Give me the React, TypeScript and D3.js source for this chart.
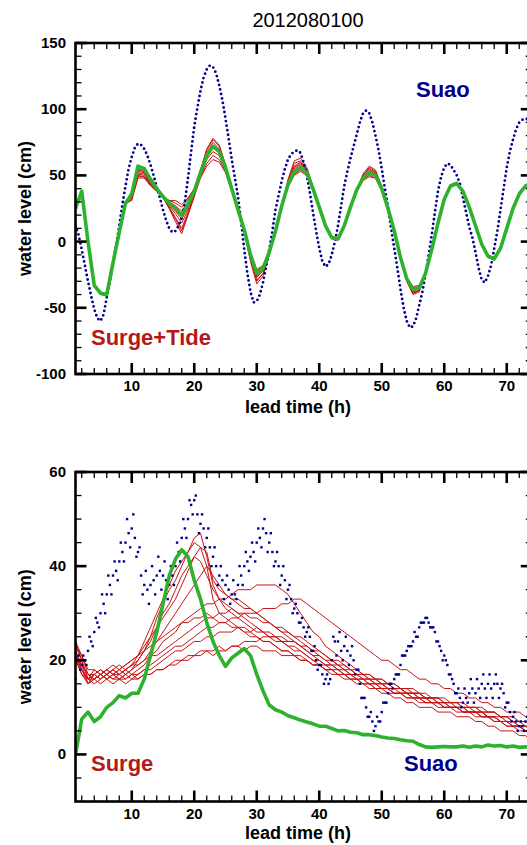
/**
 * Ensemble water level forecast at Suao, run 2012080100.
 * Two stacked panels: surge+tide (top) and surge only (bottom).
 * D3 draws into one svg through a ref, clear + redraw.
 */
import React, { useRef, useEffect } from 'react';
import * as d3 from 'd3';

const WIDTH = 527;
const HEIGHT = 845;
const FONT = 'Liberation Sans, Arial, Helvetica, sans-serif';

const NAVY = '#00008c';
const RED = '#c81414';
const GREEN = '#2eb22e';

const TITLE = '2012080100';
const FIRST_HOUR = 1;
const OBS_STEP = 0.5; // Suao observations are read every half hour

// ---- top panel: surge + tide (cm), hourly from h=1 ----
const tideGreen = [
  25, 38, 0, -33, -39, -40, -16, 7, 29, 36,
  57, 55, 47, 40, 34, 29, 25, 20, 28, 38,
  52, 65, 72, 68, 56, 40, 24, 9, -10, -24,
  -20, -8, 8, 27, 43, 53, 56, 52, 40, 26,
  12, 3, 2, 12, 26, 39, 48, 52, 50, 40,
  25, 8, -12, -28, -36, -35, -24, -6, 14, 32,
  42, 44, 38, 26, 12, -2, -11, -13, -5, 10,
  25, 36, 42, 44,
];

const tideEns1 = [
  25, 39, 1, -33, -38, -40, -16, 7, 29, 34, 53, 52, 45, 39, 34, 31, 31, 28, 33, 40,
  54, 70, 78, 73, 58, 41, 24, 9, -8, -21, -18, -7, 8, 27, 47, 61, 63, 56, 42, 26,
  12, 3, 2, 12, 26, 39, 51, 57, 54, 42, 25, 8, -12, -27, -34, -33, -23, -6, 14, 32,
  42, 44, 38, 26, 12, -2, -11, -13, -5, 10, 25, 36, 42, 44,
];
const tideEns2 = [
  24, 37, -1, -34, -40, -41, -17, 6, 28, 32, 49, 49, 43, 38, 33, 25, 15, 6, 20, 34,
  48, 57, 62, 60, 52, 38, 23, 8, -14, -30, -24, -10, 7, 26, 41, 50, 53, 50, 39, 25,
  11, 2, 1, 11, 25, 38, 47, 50, 48, 39, 24, 7, -13, -30, -39, -37, -25, -7, 13, 31,
  41, 43, 37, 25, 11, -3, -12, -14, -6, 9, 24, 35, 41, 43,
];
const tideEns3 = [
  26, 38, 0, -32, -39, -39, -15, 8, 30, 34, 51, 50, 44, 39, 34, 26, 18, 10, 22, 35,
  53, 67, 75, 70, 57, 41, 25, 10, -12, -27, -22, -9, 9, 28, 45, 57, 60, 54, 41, 27,
  13, 4, 3, 13, 27, 40, 49, 54, 52, 41, 26, 9, -11, -28, -37, -36, -24, -5, 15, 33,
  43, 45, 39, 27, 13, -1, -10, -12, -4, 11, 26, 37, 43, 45,
];
const tideEns4 = [
  25, 38, 0, -33, -39, -40, -16, 7, 29, 35, 54, 53, 45, 39, 34, 30, 27, 23, 30, 39,
  50, 62, 68, 65, 54, 39, 23, 7, -15, -32, -26, -10, 7, 26, 43, 53, 56, 52, 40, 26,
  12, 3, 2, 12, 26, 38, 46, 49, 48, 39, 25, 8, -13, -30, -40, -38, -25, -6, 14, 32,
  42, 44, 38, 26, 12, -2, -12, -14, -5, 10, 25, 36, 42, 44,
];
const tideEns5 = [
  24, 38, 1, -33, -39, -40, -16, 7, 29, 31, 48, 48, 42, 38, 34, 27, 21, 14, 24, 36,
  49, 59, 65, 62, 53, 39, 24, 9, -11, -26, -21, -8, 8, 27, 46, 59, 61, 55, 41, 26,
  12, 3, 2, 12, 26, 39, 50, 56, 53, 41, 25, 8, -12, -27, -35, -34, -24, -6, 14, 32,
  42, 44, 38, 26, 12, -2, -11, -13, -5, 10, 25, 36, 42, 44,
];
const tideEns6 = [
  25, 38, 0, -33, -39, -40, -16, 7, 29, 33, 52, 51, 44, 39, 34, 31, 29, 26, 32, 40,
  54, 69, 77, 72, 58, 41, 24, 9, -9, -22, -19, -7, 8, 27, 44, 55, 58, 53, 40, 26,
  12, 3, 2, 12, 26, 39, 48, 52, 50, 40, 25, 8, -12, -29, -38, -37, -25, -6, 14, 32,
  42, 44, 38, 26, 12, -2, -11, -13, -5, 10, 25, 36, 42, 44,
];
const tideEns7 = [
  25, 38, 0, -33, -39, -40, -16, 7, 29, 32, 50, 49, 43, 39, 34, 28, 23, 17, 26, 37,
  52, 64, 71, 67, 56, 40, 24, 9, -13, -29, -24, -10, 8, 27, 42, 51, 54, 51, 40, 26,
  12, 3, 2, 12, 26, 39, 49, 53, 51, 40, 25, 8, -12, -28, -36, -35, -24, -6, 14, 32,
  42, 44, 38, 26, 12, -2, -11, -13, -5, 10, 25, 36, 42, 44,
];
const tideEns8 = [
  25, 38, 0, -33, -39, -40, -16, 7, 29, 35, 55, 53, 46, 40, 34, 25, 17, 8, 21, 34,
  52, 66, 73, 69, 56, 40, 24, 9, -11, -25, -21, -8, 8, 27, 45, 56, 59, 54, 41, 26,
  12, 3, 2, 12, 26, 39, 50, 55, 52, 41, 25, 8, -12, -30, -39, -37, -25, -6, 14, 32,
  42, 44, 38, 26, 12, -2, -11, -13, -5, 10, 25, 36, 42, 44,
];

// half-hourly observed water level at Suao
const tideObs = [
  12, 5, -6, -18, -30, -41, -51, -58, -60, -55,
  -42, -30, -16, -3, 12, 28, 42, 55, 64, 71,
  74, 73, 70, 65, 58, 50, 41, 33, 24, 16,
  10, 7, 8, 12, 18, 30, 48, 68, 87, 101,
  114, 124, 130, 133, 132, 127, 118, 107, 93, 78,
  62, 48, 34, 15, -6, -24, -38, -46, -45, -40,
  -31, -19, -6, 8, 24, 35, 46, 55, 62, 66,
  68, 69, 67, 60, 50, 37, 22, 8, -5, -15,
  -19, -17, -10, 0, 12, 27, 42, 53, 63, 72,
  81, 90, 97, 99, 97, 90, 80, 69, 55, 40,
  26, 10, -5, -20, -36, -50, -60, -65, -64, -58,
  -48, -38, -25, -10, 5, 22, 38, 49, 56, 59,
  58, 54, 50, 44, 33, 22, 11, 3, -8, -20,
  -29, -31, -26, -18, -5, 8, 24, 40, 56, 68,
  77, 85, 90, 92, 93, 92, 90,
];

// ---- bottom panel: surge only (cm), hourly from h=1 ----
const surgeGreen = [
  0, 7.5, 9, 7, 8, 10, 11, 12.5, 12, 13,
  13, 16, 21, 26, 32, 38, 41.5, 43.5, 42, 37,
  33, 28, 24, 21, 18.7, 20.5, 21.5, 22.5, 21, 17,
  13.5, 10.5, 9.5, 9, 8.2, 7.8, 7.3, 6.9, 6.5, 6,
  6, 5.5, 5, 5.1, 4.7, 4.6, 4.2, 4.2, 4, 3.7,
  3.5, 3.4, 3.1, 2.9, 2.8, 2.1, 1.6, 1.5, 1.6, 1.7,
  1.6, 1.6, 1.8, 1.5, 1.8, 1.6, 2, 1.8, 1.9, 1.6,
  1.8, 1.5, 1.6, 1.5,
];

const surgeEns1 = [
  22, 19, 15, 17, 16, 17, 18, 17, 18, 19, 20, 22, 25, 29, 32, 35, 37, 40, 43, 46,
  47, 42, 36, 33, 31, 30, 29, 28, 27, 26, 26, 25, 24, 24, 23, 22, 22, 21, 20, 20,
  19, 19, 18, 18, 17, 17, 16, 16, 15, 15, 14, 14, 13, 13, 13, 12, 12, 11, 11, 11,
  10, 10, 10, 9, 9, 9, 8, 8, 7, 7, 6, 6, 5, 5,
];
const surgeEns2 = [
  24, 20, 16, 18, 17, 18, 17, 18, 19, 20, 21, 24, 27, 30, 33, 36, 39, 41, 43, 45,
  44, 40, 33, 30, 29, 28, 27, 27, 26, 25, 24, 24, 23, 22, 22, 21, 21, 20, 19, 19,
  18, 18, 17, 17, 16, 16, 15, 15, 14, 14, 14, 13, 13, 12, 12, 12, 11, 11, 11, 10,
  10, 10, 9, 9, 9, 8, 8, 8, 7, 7, 6, 6, 5, 5,
];
const surgeEns3 = [
  21, 18, 15, 16, 17, 16, 17, 18, 17, 18, 20, 22, 24, 27, 30, 32, 35, 38, 40, 42,
  41, 38, 35, 33, 32, 31, 30, 29, 28, 27, 26, 25, 25, 24, 23, 23, 22, 21, 20, 19,
  19, 18, 18, 17, 17, 16, 16, 15, 15, 14, 14, 13, 13, 13, 12, 12, 12, 11, 11, 10,
  10, 10, 9, 9, 9, 8, 8, 7, 7, 6, 6, 6, 5, 5,
];
const surgeEns4 = [
  23, 21, 17, 17, 18, 17, 18, 19, 18, 19, 21, 23, 25, 27, 29, 31, 33, 36, 39, 42,
  44, 43, 37, 35, 34, 33, 33, 32, 31, 30, 29, 28, 27, 26, 25, 24, 23, 22, 21, 21,
  20, 19, 19, 18, 17, 17, 16, 16, 15, 15, 14, 14, 14, 13, 13, 13, 12, 12, 11, 11,
  11, 10, 10, 10, 9, 9, 8, 8, 8, 7, 7, 6, 6, 6,
];
const surgeEns5 = [
  20, 18, 16, 16, 17, 16, 17, 16, 17, 18, 19, 20, 22, 24, 26, 28, 30, 32, 34, 36,
  38, 40, 38, 36, 34, 33, 32, 31, 31, 30, 29, 28, 27, 26, 26, 25, 24, 23, 22, 21,
  20, 20, 19, 18, 18, 17, 17, 16, 16, 15, 15, 14, 14, 13, 13, 13, 12, 12, 12, 11,
  11, 11, 10, 10, 10, 9, 9, 9, 8, 8, 7, 7, 7, 6,
];
const surgeEns6 = [
  22, 19, 17, 16, 17, 18, 17, 17, 18, 17, 18, 19, 21, 22, 24, 25, 26, 28, 29, 30,
  31, 32, 32, 33, 33, 34, 35, 35, 35, 36, 36, 36, 36, 35, 34, 32, 30, 28, 26, 25,
  23, 22, 21, 20, 19, 18, 17, 17, 16, 16, 15, 15, 14, 14, 14, 13, 13, 12, 12, 12,
  11, 11, 11, 10, 10, 10, 9, 9, 8, 8, 8, 7, 7, 7,
];
const surgeEns7 = [
  21, 17, 16, 15, 16, 17, 16, 17, 16, 17, 17, 18, 19, 20, 21, 22, 23, 23, 24, 25,
  26, 27, 27, 28, 28, 29, 29, 30, 30, 30, 31, 31, 31, 32, 32, 33, 33, 32, 31, 30,
  29, 28, 27, 26, 25, 24, 23, 22, 21, 20, 20, 19, 18, 18, 17, 16, 16, 15, 15, 14,
  14, 13, 13, 12, 12, 11, 11, 10, 10, 9, 9, 9, 8, 8,
];
const surgeEns8 = [
  23, 20, 16, 17, 16, 17, 16, 16, 17, 16, 17, 18, 18, 19, 20, 21, 22, 22, 23, 24,
  24, 25, 25, 26, 26, 26, 27, 26, 26, 27, 26, 26, 25, 25, 24, 24, 23, 22, 21, 20,
  19, 19, 18, 17, 17, 16, 16, 15, 15, 14, 14, 13, 13, 13, 12, 12, 11, 11, 11, 10,
  10, 10, 9, 9, 9, 8, 8, 8, 7, 7, 6, 6, 5, 5,
];
const surgeEns9 = [
  20, 17, 15, 16, 15, 16, 15, 16, 15, 16, 16, 17, 17, 18, 18, 19, 20, 20, 21, 21,
  22, 22, 22, 23, 22, 23, 23, 22, 23, 23, 22, 22, 22, 21, 21, 21, 20, 20, 19, 19,
  18, 18, 17, 17, 16, 16, 15, 15, 14, 14, 13, 13, 13, 12, 12, 11, 11, 11, 10, 10,
  10, 9, 9, 9, 8, 8, 8, 7, 7, 6, 6, 5, 5, 4,
];
const surgeEns10 = [
  22, 18, 16, 17, 18, 17, 18, 17, 18, 19, 19, 20, 21, 21, 22, 23, 24, 25, 26, 27,
  28, 29, 29, 30, 30, 31, 30, 30, 29, 29, 28, 28, 27, 27, 26, 25, 25, 24, 23, 22,
  21, 20, 19, 19, 18, 17, 17, 16, 16, 15, 15, 14, 14, 13, 13, 12, 12, 12, 11, 11,
  10, 10, 10, 9, 9, 9, 8, 8, 7, 7, 7, 6, 6, 5,
];
const surgeEns11 = [
  21, 19, 17, 16, 17, 16, 17, 16, 16, 17, 16, 17, 17, 18, 18, 19, 19, 20, 20, 21,
  21, 22, 21, 22, 22, 23, 23, 24, 24, 24, 25, 25, 25, 24, 24, 24, 23, 23, 22, 22,
  21, 20, 20, 19, 18, 18, 17, 17, 16, 16, 15, 15, 14, 14, 13, 13, 12, 12, 12, 11,
  11, 11, 10, 10, 10, 9, 9, 9, 8, 8, 7, 7, 6, 6,
];
const surgeEns12 = [
  24, 21, 18, 18, 17, 18, 19, 18, 19, 20, 21, 22, 23, 24, 25, 26, 27, 28, 28, 29,
  29, 30, 29, 28, 28, 27, 27, 26, 25, 25, 24, 24, 23, 22, 22, 21, 20, 20, 19, 19,
  18, 17, 17, 16, 16, 15, 15, 14, 14, 13, 13, 12, 12, 11, 11, 10, 10, 10, 9, 9,
  9, 8, 8, 8, 7, 7, 6, 6, 5, 5, 5, 4, 4, 3,
];

// observed surge at Suao: half-hourly readings (from h=1) ...
const surgeObs = [
  16, 21, 19, 20, 22, 24, 26, 28, 30, 32,
  34, 36, 38, 39, 41, 43, 45, 47, 48, 46,
  43, 38, 36, 35, 36, 37, 38, 39, 38, 37,
  36, 38, 40, 43, 46, 48, 50, 53, 54, 51,
  49, 48, 46, 44, 42, 40, 38, 37, 36, 35,
  34, 34, 36, 38, 40, 41, 42, 43, 45, 46,
  48, 47, 45, 43, 41, 40, 38, 37, 35, 33,
  31, 30, 28, 27, 26, 25, 22, 20, 19, 17,
  16, 15, 20, 24, 24, 22, 23, 22, 21, 20,
  18, 15, 12, 10, 8, 7, 6, 7, 9, 11,
  13, 15, 16, 17, 19, 21, 22, 23, 24, 25,
  27, 28, 29, 28, 27, 26, 24, 22, 21, 19,
  17, 15, 13, 12, 11, 12, 13, 14, 13, 14,
  15, 14, 15, 14, 15, 15, 14, 13, 11, 9,
  8, 7, 6, 6, 7, 6, 7,
];
// ... and the scattered readings in between (from h=1.25)
const surgeObsBetween = [
  20, 18, 21, 19, 25, 23, 29, 27, 34, 30,
  38, 34, 41, 37, 45, 41, 50, 44, 51, 42,
  44, 34, 39, 32, 40, 34, 42, 35, 41, 33,
  40, 36, 45, 41, 50, 46, 54, 51, 55, 47,
  51, 44, 48, 40, 44, 36, 40, 33, 38, 32,
  37, 33, 40, 36, 43, 39, 45, 41, 48, 44,
  50, 43, 47, 40, 43, 36, 40, 33, 36, 30,
  32, 28, 29, 25, 27, 22, 23, 18, 19, 15,
  17, 16, 25, 21, 26, 20, 25, 19, 23, 17,
  18, 12, 12, 8, 9, 5, 8, 7, 11, 11,
  15, 14, 17, 17, 21, 21, 23, 23, 26, 25,
  28, 28, 29, 27, 27, 24, 23, 20, 20, 17,
  16, 13, 14, 10, 14, 11, 16, 11, 16, 12,
  17, 12, 17, 12, 17, 12, 15, 10, 11, 7,
  9, 5, 7, 5, 8, 5, 6,
];

const tideEnsemble = [tideEns1, tideEns2, tideEns3, tideEns4, tideEns5, tideEns6, tideEns7, tideEns8];
const surgeEnsemble = [
  surgeEns1, surgeEns2, surgeEns3, surgeEns4, surgeEns5, surgeEns6,
  surgeEns7, surgeEns8, surgeEns9, surgeEns10, surgeEns11, surgeEns12,
];

// axis ticks
const hourDomain = [1, 74];
const hourLabels = [10, 20, 30, 40, 50, 60, 70];
const hourMinor = [2, 4, 6, 8, 12, 14, 16, 18, 22, 24, 26, 28, 32, 34, 36, 38, 42, 44, 46, 48, 52, 54, 56, 58, 62, 64, 66, 68, 72, 74];
const tideDomain = [-100, 150];
const tideLabels = [-100, -50, 0, 50, 100, 150];
const tideMinor = [-90, -80, -70, -60, -40, -30, -20, -10, 10, 20, 30, 40, 60, 70, 80, 90, 110, 120, 130, 140];
const surgeDomain = [-10, 60];
const surgeLabels = [0, 20, 40, 60];
const surgeMinor = [-5, 5, 10, 15, 25, 30, 35, 45, 50, 55];

const LEFT = 75.5;
const RIGHT = 531.75;

interface PanelOpts {
  id: string;
  top: number;
  bottom: number;
  yDomain: number[];
  yLabels: number[];
  yMinor: number[];
  model: number[];
  ensemble: number[][];
  obs: number[];
  obsBetween?: number[]; // when set, observations are drawn as scattered squares
  notes: { text: string; x: number; y: number; color: string }[];
  xTitleY: number;
}

type Sel = d3.Selection<SVGSVGElement, unknown, null, undefined>;

const drawPanel = (svg: Sel, o: PanelOpts) => {
  const x = d3.scaleLinear().domain(hourDomain).range([LEFT, RIGHT]);
  const y = d3.scaleLinear().domain(o.yDomain).range([o.bottom, o.top]);

  svg.append('clipPath').attr('id', o.id)
    .append('rect')
    .attr('x', LEFT).attr('y', o.top)
    .attr('width', RIGHT - LEFT).attr('height', o.bottom - o.top);

  const plot = svg.append('g').attr('clip-path', `url(#${o.id})`);

  // ensemble members: thin red
  const hourLine = d3.line<number>()
    .x((_, i) => x(FIRST_HOUR + i))
    .y((d) => y(d));

  o.ensemble.forEach((m) => {
    plot.append('path')
      .attr('d', hourLine(m) ?? '')
      .attr('fill', 'none')
      .attr('stroke', RED)
      .attr('stroke-width', 1);
  });

  // observed Suao: navy dots
  if (o.obsBetween) {
    const pts = [
      ...o.obs.map((v, i) => [FIRST_HOUR + i * OBS_STEP, v]),
      ...o.obsBetween.map((v, i) => [FIRST_HOUR + OBS_STEP / 2 + i * OBS_STEP, v]),
    ];
    plot.append('g')
      .attr('fill', NAVY)
      .selectAll('rect')
      .data(pts)
      .join('rect')
      .attr('x', (d) => x(d[0]) - 1.2)
      .attr('y', (d) => y(d[1]) - 1.2)
      .attr('width', 2.4)
      .attr('height', 2.4);
  } else {
    const obsLine = d3.line<number>()
      .x((_, i) => x(FIRST_HOUR + i * OBS_STEP))
      .y((d) => y(d));
    plot.append('path')
      .attr('d', obsLine(o.obs) ?? '')
      .attr('fill', 'none')
      .attr('stroke', NAVY)
      .attr('stroke-width', 2.8)
      .attr('stroke-linecap', 'round')
      .attr('stroke-dasharray', '0 4.6');
  }

  plot.append('path')
    .attr('d', hourLine(o.model) ?? '')
    .attr('fill', 'none')
    .attr('stroke', GREEN)
    .attr('stroke-width', 3.6)
    .attr('stroke-linejoin', 'round');

  // frame
  svg.append('rect')
    .attr('x', LEFT).attr('y', o.top)
    .attr('width', RIGHT - LEFT).attr('height', o.bottom - o.top)
    .attr('fill', 'none')
    .attr('stroke', '#000')
    .attr('stroke-width', 2.6);

  const ticks = svg.append('g').attr('stroke', '#000');
  const tick = (x1: number, y1: number, x2: number, y2: number, major: boolean) =>
    ticks.append('line')
      .attr('x1', x1).attr('y1', y1).attr('x2', x2).attr('y2', y2)
      .attr('stroke-width', major ? 2.6 : 1.3);

  hourLabels.forEach((h) => {
    tick(x(h), o.bottom, x(h), o.bottom - 11, true);
    tick(x(h), o.top, x(h), o.top + 11, true);
  });
  hourMinor.forEach((h) => {
    tick(x(h), o.bottom, x(h), o.bottom - 6, false);
    tick(x(h), o.top, x(h), o.top + 6, false);
  });
  o.yLabels.forEach((v) => {
    tick(LEFT, y(v), LEFT + 11, y(v), true);
    tick(RIGHT, y(v), RIGHT - 11, y(v), true);
  });
  o.yMinor.forEach((v) => {
    tick(LEFT, y(v), LEFT + 6, y(v), false);
    tick(RIGHT, y(v), RIGHT - 6, y(v), false);
  });

  const labels = svg.append('g')
    .attr('font-family', FONT)
    .attr('font-size', '15px')
    .attr('font-weight', 'bold')
    .attr('fill', '#000');

  hourLabels.forEach((h) => {
    labels.append('text')
      .attr('x', x(h)).attr('y', o.bottom + 17)
      .attr('text-anchor', 'middle')
      .text(h);
  });
  o.yLabels.forEach((v) => {
    labels.append('text')
      .attr('x', LEFT - 9.5).attr('y', y(v) + 5)
      .attr('text-anchor', 'end')
      .text(v);
  });

  svg.append('text')
    .attr('x', 298).attr('y', o.xTitleY)
    .attr('text-anchor', 'middle')
    .attr('font-family', FONT)
    .attr('font-size', '18px')
    .attr('font-weight', 'bold')
    .text('lead time (h)');

  svg.append('text')
    .attr('transform', `translate(31, ${(o.top + o.bottom) / 2}) rotate(-90)`)
    .attr('text-anchor', 'middle')
    .attr('font-family', FONT)
    .attr('font-size', '18px')
    .attr('font-weight', 'bold')
    .text('water level (cm)');

  o.notes.forEach((n) => {
    svg.append('text')
      .attr('x', n.x).attr('y', n.y)
      .attr('fill', n.color)
      .attr('font-family', FONT)
      .attr('font-size', '22px')
      .attr('font-weight', 'bold')
      .text(n.text);
  });
};

const App: React.FC = () => {
  const svgRef = useRef<SVGSVGElement>(null);

  useEffect(() => {
    if (!svgRef.current) return;
    const svg = d3.select(svgRef.current);
    svg.selectAll('*').remove();

    svg.append('rect').attr('width', WIDTH).attr('height', HEIGHT).attr('fill', '#fff');

    svg.append('text')
      .attr('x', 308).attr('y', 27)
      .attr('text-anchor', 'middle')
      .attr('font-family', FONT)
      .attr('font-size', '20px')
      .text(TITLE);

    drawPanel(svg, {
      id: 'clip-tide',
      top: 43,
      bottom: 374,
      yDomain: tideDomain,
      yLabels: tideLabels,
      yMinor: tideMinor,
      model: tideGreen,
      ensemble: tideEnsemble,
      obs: tideObs,
      notes: [
        { text: 'Suao', x: 416, y: 97, color: NAVY },
        { text: 'Surge+Tide', x: 91, y: 345, color: '#b41818' },
      ],
      xTitleY: 413,
    });

    drawPanel(svg, {
      id: 'clip-surge',
      top: 472,
      bottom: 801.5,
      yDomain: surgeDomain,
      yLabels: surgeLabels,
      yMinor: surgeMinor,
      model: surgeGreen,
      ensemble: surgeEnsemble,
      obs: surgeObs,
      obsBetween: surgeObsBetween,
      notes: [
        { text: 'Surge', x: 91, y: 771, color: '#b41818' },
        { text: 'Suao', x: 404, y: 771, color: NAVY },
      ],
      xTitleY: 839,
    });
  }, []);

  return (
    <svg
      ref={svgRef}
      width={WIDTH}
      height={HEIGHT}
      style={{ position: 'absolute', left: 0, top: 0 }}
    />
  );
};

export default App;
